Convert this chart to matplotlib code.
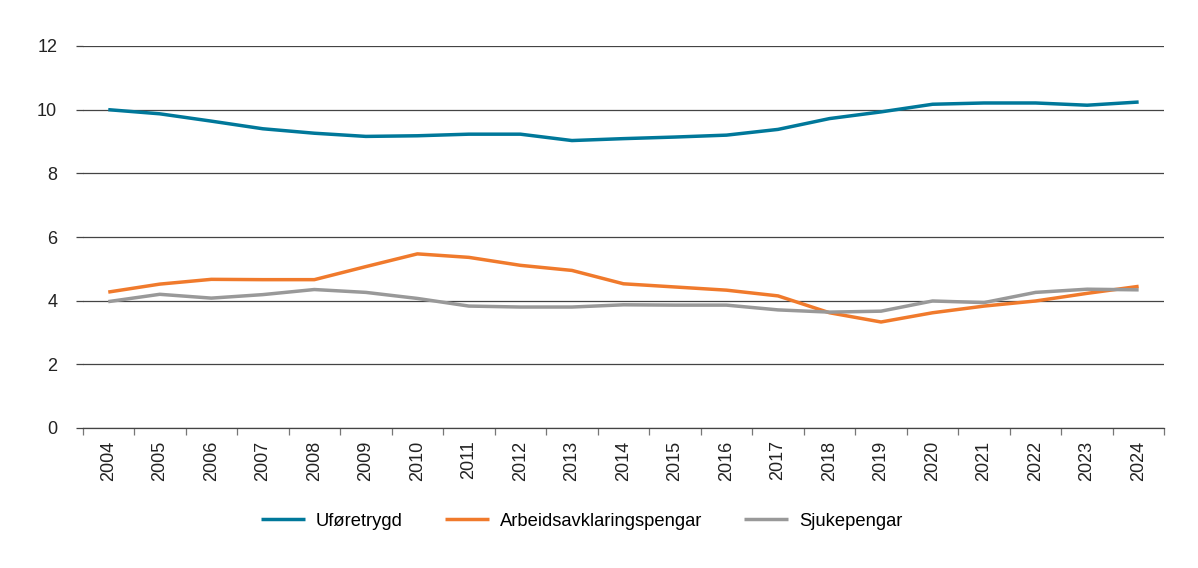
import numpy as np
import matplotlib
matplotlib.use("Agg")
import matplotlib.pyplot as plt

plt.rcParams["font.family"] = ["Liberation Sans", "DejaVu Sans"]

years = [str(y) for y in range(2004, 2025)]
uforetrygd = [10.0, 9.87, 9.64, 9.40, 9.26, 9.16, 9.18, 9.23, 9.23, 9.03, 9.09,
              9.14, 9.20, 9.38, 9.72, 9.93, 10.17, 10.21, 10.21, 10.14, 10.24]
aap = [4.27, 4.52, 4.67, 4.66, 4.66, 5.07, 5.47, 5.36, 5.11, 4.95, 4.53,
       4.43, 4.33, 4.15, 3.62, 3.33, 3.62, 3.83, 3.99, 4.23, 4.45]
sjukepengar = [3.97, 4.20, 4.08, 4.19, 4.35, 4.26, 4.07, 3.83, 3.80, 3.80, 3.87,
               3.86, 3.86, 3.71, 3.64, 3.67, 3.99, 3.94, 4.26, 4.36, 4.34]
labels = ["Uføretrygd", "Arbeidsavklaringspengar", "Sjukepengar"]
colors = ["#00789a", "#f07a2c", "#999999"]

W, H = 1198, 568
fig = plt.figure(figsize=(W / 100, H / 100), dpi=100)
ax = fig.add_axes([82.5 / W, 1 - 428 / H, (1164.4 - 82.5) / W, (428 - 46) / H])

x = np.arange(len(years))
for vals, lab, col in zip([uforetrygd, aap, sjukepengar], labels, colors):
    ax.plot(x, vals, color=col, lw=2.5, label=lab, solid_capstyle="butt")

ax.set_xlim(-0.5, len(years) - 0.5)
ax.set_ylim(0, 12)
ax.set_yticks(range(0, 13, 2))
ax.yaxis.grid(True, color="#444444", lw=0.9)
ax.set_axisbelow(True)
for s in ["top", "right", "left"]:
    ax.spines[s].set_visible(False)
ax.spines["bottom"].set_color("#444444")
ax.spines["bottom"].set_linewidth(0.9)

ax.tick_params(axis="y", length=5.2, width=0.9, color="#444444", pad=13,
               labelsize=13, labelcolor="#222222")
ax.set_xticks(x)
ax.set_xticklabels(years, rotation=90, fontsize=13, color="#222222")
ax.tick_params(axis="x", length=0, pad=9)
ax.set_xticks(np.arange(-0.5, len(years), 1), minor=True)
ax.tick_params(axis="x", which="minor", length=5, width=0.9, color="#777777")

fig.legend(loc="center", bbox_to_anchor=(0.4855, 1 - 521 / H), ncol=3,
           frameon=False, fontsize=13.2, handlelength=2.4, handletextpad=0.6,
           columnspacing=2.3)

fig.savefig("out.png", dpi=100)
